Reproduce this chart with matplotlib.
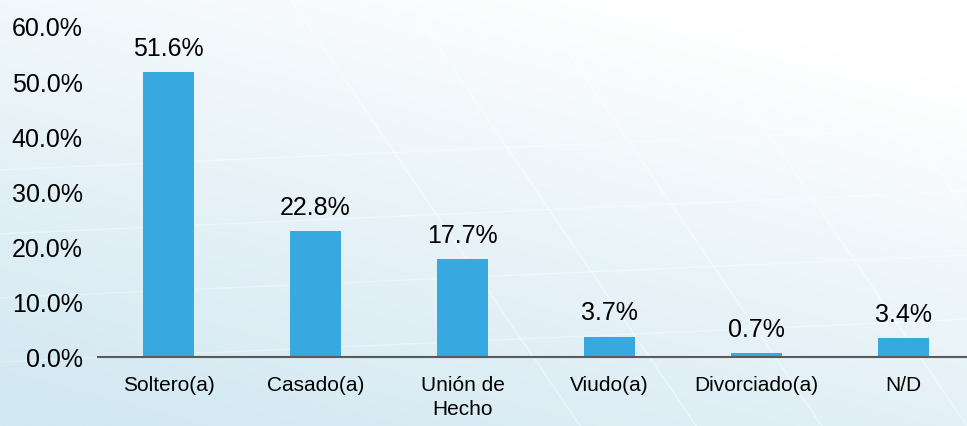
import numpy as np
import matplotlib
matplotlib.use("Agg")
import matplotlib.pyplot as plt
from matplotlib import font_manager
from matplotlib.colors import LinearSegmentedColormap

# data
categories = ["Soltero(a)", "Casado(a)", "Unión de\nHecho", "Viudo(a)", "Divorciado(a)", "N/D"]
values = [51.6, 22.8, 17.7, 3.7, 0.7, 3.4]
yticks = [0, 10, 20, 30, 40, 50, 60]

names = {f.name for f in font_manager.fontManager.ttflist}
fam = [n for n in ["Liberation Sans Narrow", "Liberation Sans", "DejaVu Sans"] if n in names]
plt.rcParams['font.family'] = fam

W, H, dpi = 967, 427, 100
fig = plt.figure(figsize=(W/dpi, H/dpi), dpi=dpi)

# background gradient + faint white lines
bg = fig.add_axes([0, 0, 1, 1], zorder=0)
xx, yy = np.meshgrid(np.linspace(0, 1, 400), np.linspace(0, 1, 200))
t = np.clip(0.45*(1-xx) + 0.75*yy - 0.15, 0, 1)
cmap = LinearSegmentedColormap.from_list("bg", ["#ffffff", "#e8f3f8", "#d2e8f2"])
bg.imshow(t, cmap=cmap, aspect='auto', extent=[0, 1, 0, 1], origin='upper')
for x0 in [0.30, 0.42, 0.55, 0.70, 0.85]:
    bg.plot([x0, x0 + 0.30], [1.0, 0.0], color='white', lw=1, alpha=0.5)
for y0 in [0.15, 0.30, 0.45, 0.60]:
    bg.plot([0.0, 1.0], [y0, y0 + 0.10], color='white', lw=1, alpha=0.4)
bg.set_xlim(0, 1)
bg.set_ylim(0, 1)
bg.axis('off')

ax = fig.add_axes([98/W, (H-358)/H, 882/W, (358-27)/H], zorder=1)
ax.patch.set_alpha(0)
x = np.arange(len(categories))
bars = ax.bar(x, values, width=0.35, color="#38a8e0")
for b, v in zip(bars, values):
    ax.annotate(f"{v:.1f}%", (b.get_x() + b.get_width()/2, v), xytext=(0, 9),
                textcoords='offset points', ha='center', va='bottom', fontsize=18)

ax.set_xlim(-0.48, len(categories) - 0.48)
ax.set_ylim(0, 60)
ax.set_yticks(yticks)
ax.set_yticklabels([f"{v:.1f}%" for v in yticks], fontsize=18)
ax.set_xticks(x)
ax.set_xticklabels(categories, fontsize=15, linespacing=1.35)
ax.tick_params(axis='both', length=0)
ax.tick_params(axis='y', pad=11)
ax.tick_params(axis='x', pad=13)
for s in ['top', 'right', 'left']:
    ax.spines[s].set_visible(False)
ax.spines['bottom'].set_color('#5a5a5a')
ax.spines['bottom'].set_linewidth(1.5)

fig.savefig("out.png", dpi=dpi)
